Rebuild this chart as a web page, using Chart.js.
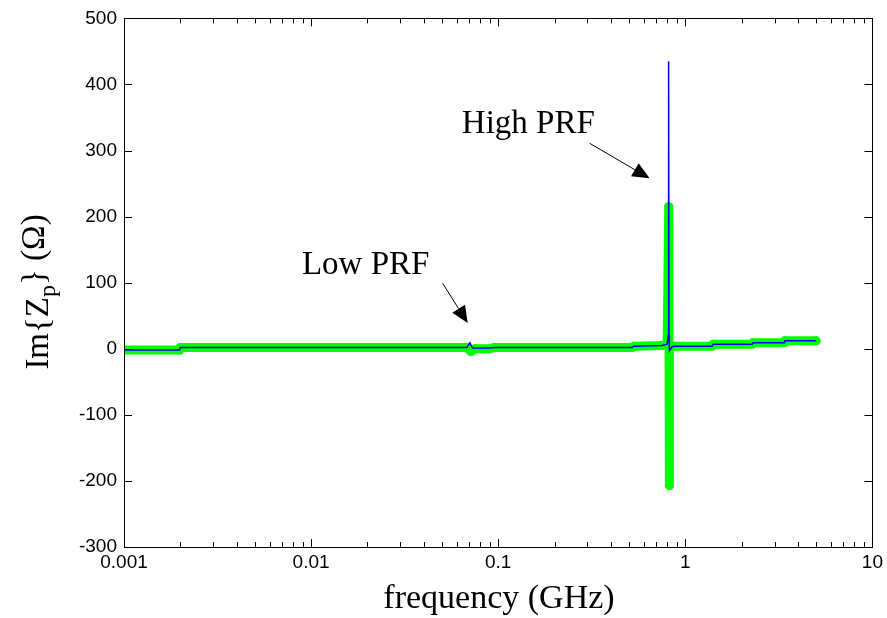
<!DOCTYPE html>
<html>
<head>
<meta charset="utf-8">
<script src="https://cdn.jsdelivr.net/npm/chart.js@4/dist/chart.umd.min.js"></script>
<style>
  html, body { margin: 0; padding: 0; background: #fff; }
  #wrap { width: 887px; height: 618px; }
</style>
</head>
<body>
<div id="wrap"><canvas id="zp-chart" width="887" height="618"></canvas></div>
<script>
// datos (frecuencia en GHz, Im{Zp} en ohm)
const freqAzul = [0.001, 0.00198, 0.002, 0.068, 0.0705, 0.073, 0.09, 0.095, 0.52, 0.53, 0.75, 0.80, 0.81, 0.812, 0.816, 0.818, 0.822, 0.85, 0.89, 1.39, 1.41, 2.28, 2.30, 3.38, 3.40, 5.0];
const zpAzul   = [-2, -2, 2, 2, 9, 1, 1, 2, 2, 4, 5, 7, 20, 96, 435, 20, -3, 3, 4, 4, 7, 7, 9, 9, 12, 12];

const freqVerde = [0.001, 0.00198, 0.002, 0.068, 0.0715, 0.075, 0.09, 0.095, 0.52, 0.53, 0.75, 0.80, 0.815, 0.818, 0.821, 0.823, 0.88, 1.39, 1.41, 2.28, 2.30, 3.38, 3.40, 5.0];
const zpVerde   = [-2, -2, 2, 2, -4, 0, 0, 2, 2, 4, 5, 8, 215, 5, -207, 3, 4, 4, 7, 7, 9, 9, 12, 12];

const xTicksValores = [0.001, 0.01, 0.1, 1, 10];
const xTicksTexto = ["0.001", "0.01", "0.1", "1", "10"];
const yTicksValores = [-300, -200, -100, 0, 100, 200, 300, 400, 500];

const notas = [
  { texto: "High PRF", x: 0.0639, y: 327, colaX: 0.308, colaY: 311, puntaX: 0.644, puntaY: 258 },
  { texto: "Low PRF", x: 0.00893, y: 113, colaX: 0.0505, colaY: 99, puntaX: 0.0687, puntaY: 39 }
];

const toXY = (xs, ys) => xs.map((x, i) => ({ x: x, y: ys[i] }));

// ticks menores del eje log (1..9 por decada)
const xTicksMenores = [];
for (let d = -3; d < 1; d++) {
  for (let m = 1; m < 10; m++) xTicksMenores.push(m * Math.pow(10, d));
}
xTicksMenores.push(10);

const SERIF = "'Liberation Serif', 'Times New Roman', serif";

// marco, ticks hacia adentro, titulos con subindice y flechas
const marcoPlugin = {
  id: "marco",
  afterDraw(chart) {
    const { ctx, chartArea: a, scales } = chart;
    const sx = scales.x, sy = scales.y;
    ctx.save();
    ctx.strokeStyle = "#000";
    ctx.lineWidth = 1;
    ctx.beginPath();
    for (const v of xTicksMenores) {
      const px = Math.round(sx.getPixelForValue(v)) + 0.5;
      const largo = xTicksValores.some(t => Math.abs(t - v) < t * 1e-6) ? 8 : 5;
      ctx.moveTo(px, a.bottom); ctx.lineTo(px, a.bottom - largo);
      ctx.moveTo(px, a.top); ctx.lineTo(px, a.top + largo);
    }
    for (const v of yTicksValores) {
      const py = Math.round(sy.getPixelForValue(v)) + 0.5;
      ctx.moveTo(a.left, py); ctx.lineTo(a.left + 8, py);
      ctx.moveTo(a.right, py); ctx.lineTo(a.right - 8, py);
    }
    ctx.stroke();
    ctx.strokeRect(Math.round(a.left) + 0.5, Math.round(a.top) + 0.5, Math.round(a.right - a.left), Math.round(a.bottom - a.top));

    // flechas y textos
    ctx.fillStyle = "#000";
    ctx.font = "33px " + SERIF;
    ctx.textBaseline = "alphabetic";
    ctx.textAlign = "left";
    for (const n of notas) {
      ctx.fillText(n.texto, sx.getPixelForValue(n.x), sy.getPixelForValue(n.y));
      const x0 = sx.getPixelForValue(n.colaX), y0 = sy.getPixelForValue(n.colaY);
      const x1 = sx.getPixelForValue(n.puntaX), y1 = sy.getPixelForValue(n.puntaY);
      const ang = Math.atan2(y1 - y0, x1 - x0);
      const L = 17, W = 7.5;
      const bx = x1 - L * Math.cos(ang), by = y1 - L * Math.sin(ang);
      ctx.beginPath();
      ctx.moveTo(x0, y0); ctx.lineTo(bx, by);
      ctx.stroke();
      ctx.beginPath();
      ctx.moveTo(x1, y1);
      ctx.lineTo(bx + W * Math.sin(ang), by - W * Math.cos(ang));
      ctx.lineTo(bx - W * Math.sin(ang), by + W * Math.cos(ang));
      ctx.closePath();
      ctx.fill();
    }

    // titulo eje x
    ctx.textAlign = "center";
    ctx.font = "34px " + SERIF;
    ctx.fillText("frequency (GHz)", 499, 608);

    // titulo eje y con subindice
    ctx.translate(48, 292);
    ctx.rotate(-Math.PI / 2);
    const f1 = "33px " + SERIF;
    const f2 = "24px " + SERIF;
    ctx.font = f1;
    const p1 = "Im{Z", p3 = "} (\u03A9)";
    const w1 = ctx.measureText(p1).width, w3 = ctx.measureText(p3).width;
    ctx.font = f2;
    const w2 = ctx.measureText("p").width;
    let x = -(w1 + w2 + w3) / 2;
    ctx.textAlign = "left";
    ctx.font = f1; ctx.fillText(p1, x, 0); x += w1;
    ctx.font = f2; ctx.fillText("p", x, 7); x += w2;
    ctx.font = f1; ctx.fillText(p3, x, -4);
    ctx.restore();
  }
};

new Chart(document.getElementById("zp-chart"), {
  type: "scatter",
  data: {
    datasets: [
      {
        label: "Im{Zp}",
        data: toXY(freqAzul, zpAzul),
        showLine: true,
        borderColor: "#0000ff",
        borderWidth: 1.5,
        pointRadius: 0,
        order: 0
      },
      {
        label: "Im{Zp} medido",
        data: toXY(freqVerde, zpVerde),
        showLine: true,
        borderColor: "#00ff00",
        borderWidth: 9,
        borderCapStyle: "round",
        borderJoinStyle: "round",
        pointRadius: 4.5,
        pointBackgroundColor: "#00ff00",
        pointBorderWidth: 0,
        order: 1
      }
    ]
  },
  options: {
    responsive: false,
    animation: false,
    devicePixelRatio: 1,
    layout: { padding: { top: 18, right: 14, left: 0, bottom: 0 } },
    plugins: {
      legend: { display: false },
      tooltip: { enabled: false }
    },
    scales: {
      x: {
        type: "logarithmic",
        min: 0.001,
        max: 10,
        afterBuildTicks: s => { s.ticks = xTicksValores.map(v => ({ value: v })); },
        afterFit: s => { s.height = 71; },
        grid: { display: false, drawTicks: false },
        border: { display: false },
        ticks: {
          autoSkip: false,
          maxRotation: 0,
          padding: 4,
          color: "#000",
          font: { family: "'Liberation Sans', Arial, sans-serif", size: 19 },
          callback: (v) => xTicksTexto[xTicksValores.indexOf(v)] ?? ""
        }
      },
      y: {
        min: -300,
        max: 500,
        afterBuildTicks: s => { s.ticks = yTicksValores.map(v => ({ value: v })); },
        afterFit: s => { s.width = 124; },
        grid: { display: false, drawTicks: false },
        border: { display: false },
        ticks: {
          padding: 7,
          color: "#000",
          font: { family: "'Liberation Sans', Arial, sans-serif", size: 19 }
        }
      }
    }
  },
  plugins: [marcoPlugin]
});
</script>
</body>
</html>
